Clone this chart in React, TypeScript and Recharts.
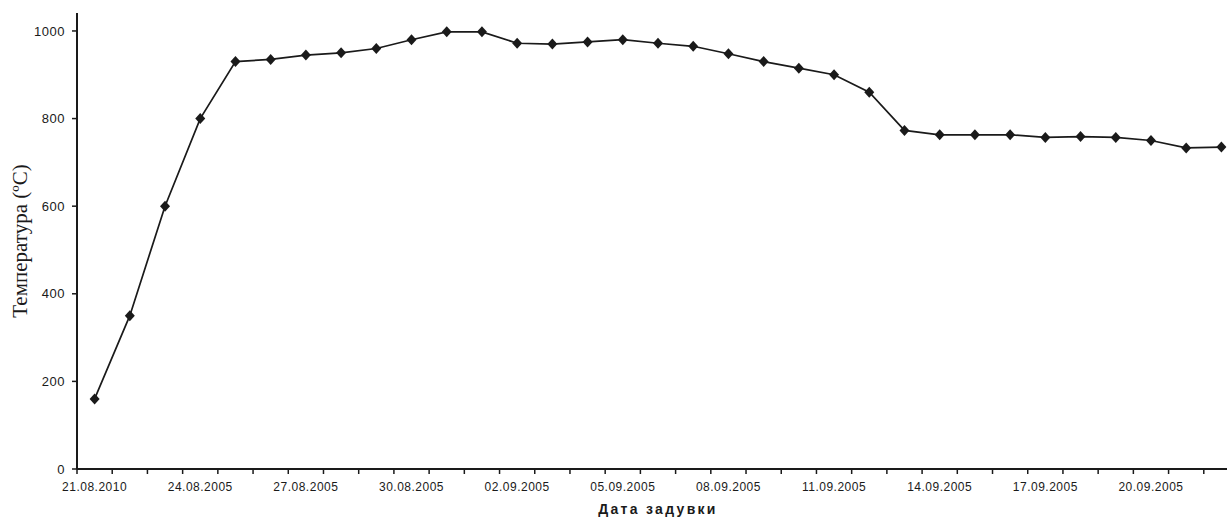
import { LineChart, Line, XAxis, YAxis } from "recharts"

const dates = [
  "21.08.2010", "22.08.2005", "23.08.2005", "24.08.2005", "25.08.2005",
  "26.08.2005", "27.08.2005", "28.08.2005", "29.08.2005", "30.08.2005",
  "31.08.2005", "01.09.2005", "02.09.2005", "03.09.2005", "04.09.2005",
  "05.09.2005", "06.09.2005", "07.09.2005", "08.09.2005", "09.09.2005",
  "10.09.2005", "11.09.2005", "12.09.2005", "13.09.2005", "14.09.2005",
  "15.09.2005", "16.09.2005", "17.09.2005", "18.09.2005", "19.09.2005",
  "20.09.2005", "21.09.2005", "22.09.2005",
]

const temps = [
  160, 350, 600, 800, 930, 935, 945, 950, 960, 980,
  998, 998, 972, 970, 975, 980, 972, 965, 948, 930,
  915, 900, 860, 773, 763, 763, 763, 757, 759, 757,
  750, 733, 735,
]

const yTicks = [0, 200, 400, 600, 800, 1000]
const labelEvery = 3

const data = dates.map((date, idx) => ({ idx, date, temp: temps[idx] }))
// tick marks sit on the category boundaries, labels on the category centres
const boundaryTicks = [...dates.map((_, i) => i - 0.5), dates.length - 0.5]
const labelTicks = dates.map((_, i) => i).filter((i) => i % labelEvery === 0)
const xDomain = [-0.5, dates.length - 0.5]

const ink = "#1a1a1a"
const sans = "'Liberation Sans', Arial, sans-serif"
const tickStyle = { fontSize: 12, fill: ink, fontFamily: sans, letterSpacing: 0.5 }

function NoLabel() {
  return <g />
}

function Diamond(props: any) {
  const { cx, cy, index } = props
  if (cx == null || cy == null) return null
  return (
    <path
      key={index}
      d={`M${cx},${cy - 5.5}L${cx + 5},${cy}L${cx},${cy + 5.5}L${cx - 5},${cy}Z`}
      fill={ink}
    />
  )
}

export default function App() {
  return (
    <div
      style={{
        position: "absolute",
        left: 0,
        top: 0,
        width: 1227,
        height: 518,
        overflow: "hidden",
        background: "#fff",
      }}
    >
      <LineChart
        width={1240}
        height={518}
        data={data}
        margin={{ top: 13, right: 1, left: 0, bottom: 0 }}
      >
        <XAxis
          xAxisId="grid"
          type="number"
          dataKey="idx"
          domain={xDomain}
          ticks={boundaryTicks}
          interval={0}
          tick={NoLabel}
          tickSize={5}
          height={8}
          axisLine={{ stroke: ink, strokeWidth: 2 }}
          tickLine={{ stroke: ink, strokeWidth: 1.5 }}
        />
        <XAxis
          xAxisId="labels"
          type="number"
          dataKey="idx"
          domain={xDomain}
          ticks={labelTicks}
          interval={0}
          tickFormatter={(v: number) => dates[v] ?? ""}
          tick={tickStyle}
          tickSize={0}
          tickMargin={5}
          height={41}
          axisLine={false}
          tickLine={false}
          label={{
            value: "Дата задувки",
            position: "insideBottom",
            offset: 4,
            style: { fontSize: 14, fontWeight: "bold", fill: ink, fontFamily: sans, letterSpacing: 2.3 },
          }}
        />
        <YAxis
          type="number"
          domain={[0, 1041]}
          ticks={yTicks}
          width={77}
          tickSize={5}
          tickMargin={7}
          tick={{ ...tickStyle, fontSize: 13 }}
          axisLine={{ stroke: ink, strokeWidth: 2 }}
          tickLine={{ stroke: ink, strokeWidth: 1.5 }}
          label={{
            value: "Температура (ºC)",
            angle: -90,
            position: "insideLeft",
            offset: 20,
            style: {
              textAnchor: "middle",
              fontSize: 21,
              fill: ink,
              fontFamily: "'Liberation Serif', 'Times New Roman', serif",
            },
          }}
        />
        <Line
          xAxisId="grid"
          type="linear"
          dataKey="temp"
          stroke={ink}
          strokeWidth={1.7}
          dot={Diamond}
          activeDot={false}
          isAnimationActive={false}
        />
      </LineChart>
    </div>
  )
}
